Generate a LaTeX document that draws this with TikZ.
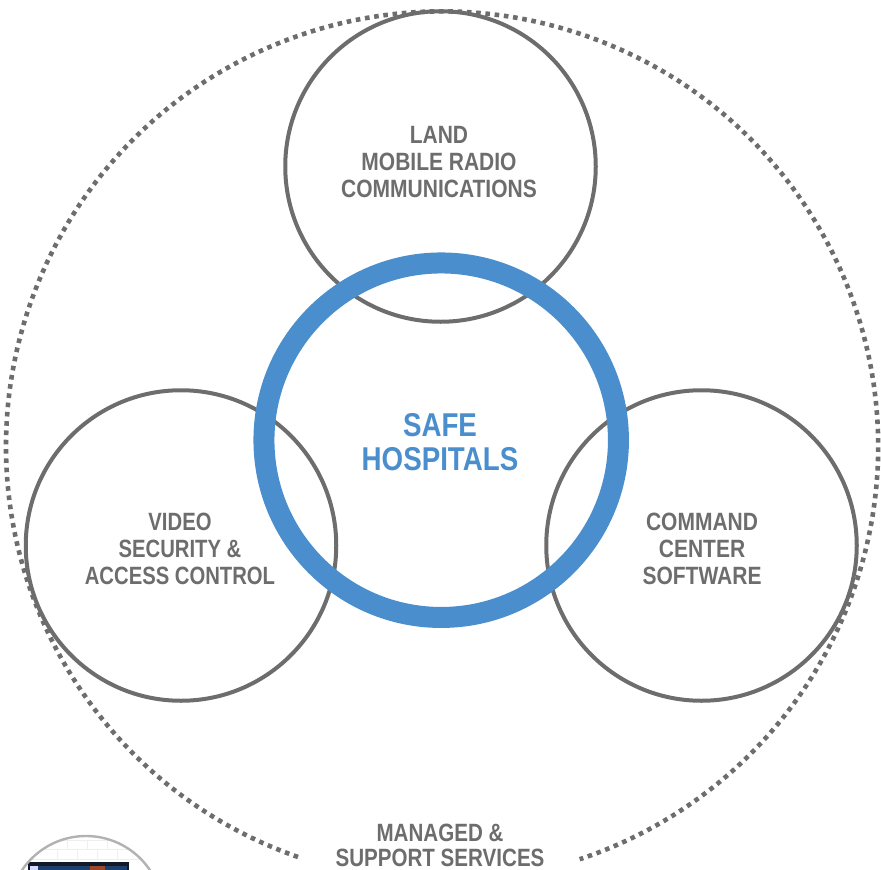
\documentclass[tikz,border=0pt]{standalone}
\usepackage{fontspec}
\setmainfont[FakeStretch=0.84]{Liberation Sans}
\definecolor{ringgrey}{HTML}{6D6D6E}
\definecolor{ringblue}{HTML}{4A8ECD}
\definecolor{brick}{HTML}{EFEFEF}
\definecolor{screen}{HTML}{121A2A}
\definecolor{screenrow}{HTML}{1C3F6E}
\definecolor{screenhot}{HTML}{9A4A2A}
\tikzset{
  x=1pt,y=-1pt,
  orbit/.style={circle,draw=ringgrey,line width=4pt,minimum size=310.5pt,inner sep=0pt},
  orbitlabel/.style={align=center,text=ringgrey,font=\fontsize{25}{27}\selectfont\bfseries},
  hub/.style={circle,draw=ringblue,line width=21pt,minimum size=354.5pt,inner sep=0pt},
  hublabel/.style={align=center,text=ringblue,font=\fontsize{33}{34}\selectfont\bfseries},
  dots/.style={draw=ringgrey,line width=4.6pt,dash pattern=on 4.6pt off 4.7pt}
}
\begin{document}
\begin{tikzpicture}
\useasboundingbox (0,0) rectangle (881,870);
\begin{scope}
\clip (0,0) rectangle (881,870);
\begin{scope}
\clip (86,913) circle[radius=77];
\draw[brick,line width=1pt] (0,840) -- (170,840) (0,849) -- (170,849) (0,859) -- (170,859)
  (67,840) -- (67,849) (87,840) -- (87,849) (107,840) -- (107,849)
  (57,849) -- (57,859) (77,849) -- (77,859) (97,849) -- (97,859) (117,849) -- (117,859);
\fill[screen] (28,862) rectangle (129,880);
\fill[screenrow] (30,866) rectangle (127,870);
\fill[white!85!blue] (30,866) rectangle (38,870);
\fill[screenhot] (90,866) rectangle (105,870);
\end{scope}
\node[circle,draw=black!30,line width=2.4pt,minimum size=154pt,inner sep=0pt] (thumb) at (86,913) {};
\end{scope}
\coordinate (dotstart) at (298,857);
\draw[dots] (dotstart) arc[start angle=109.3,end angle=431.6,x radius=436,y radius=435];
\node[orbit] (top) at (440.5,166.5) {};
\node[orbit] (left) at (181,545.5) {};
\node[orbit] (right) at (701.5,545.5) {};
\node[hub] (hub) at (441.2,440.2) {};
\node[hublabel] (hubtext) at (440,442) {SAFE\\HOSPITALS};
\node[orbitlabel] (toptext) at (439,162.5) {LAND\\MOBILE RADIO\\COMMUNICATIONS};
\node[orbitlabel,xscale=0.965] (lefttext) at (180,548.5) {VIDEO\\SECURITY \&\\ACCESS CONTROL};
\node[orbitlabel] (righttext) at (702,548.5) {COMMAND\\CENTER\\SOFTWARE};
\node[orbitlabel,xscale=0.98,font=\fontsize{25}{25}\selectfont\bfseries] (bottomtext) at (440,845) {MANAGED \&\\SUPPORT SERVICES};
\end{tikzpicture}
\end{document}
